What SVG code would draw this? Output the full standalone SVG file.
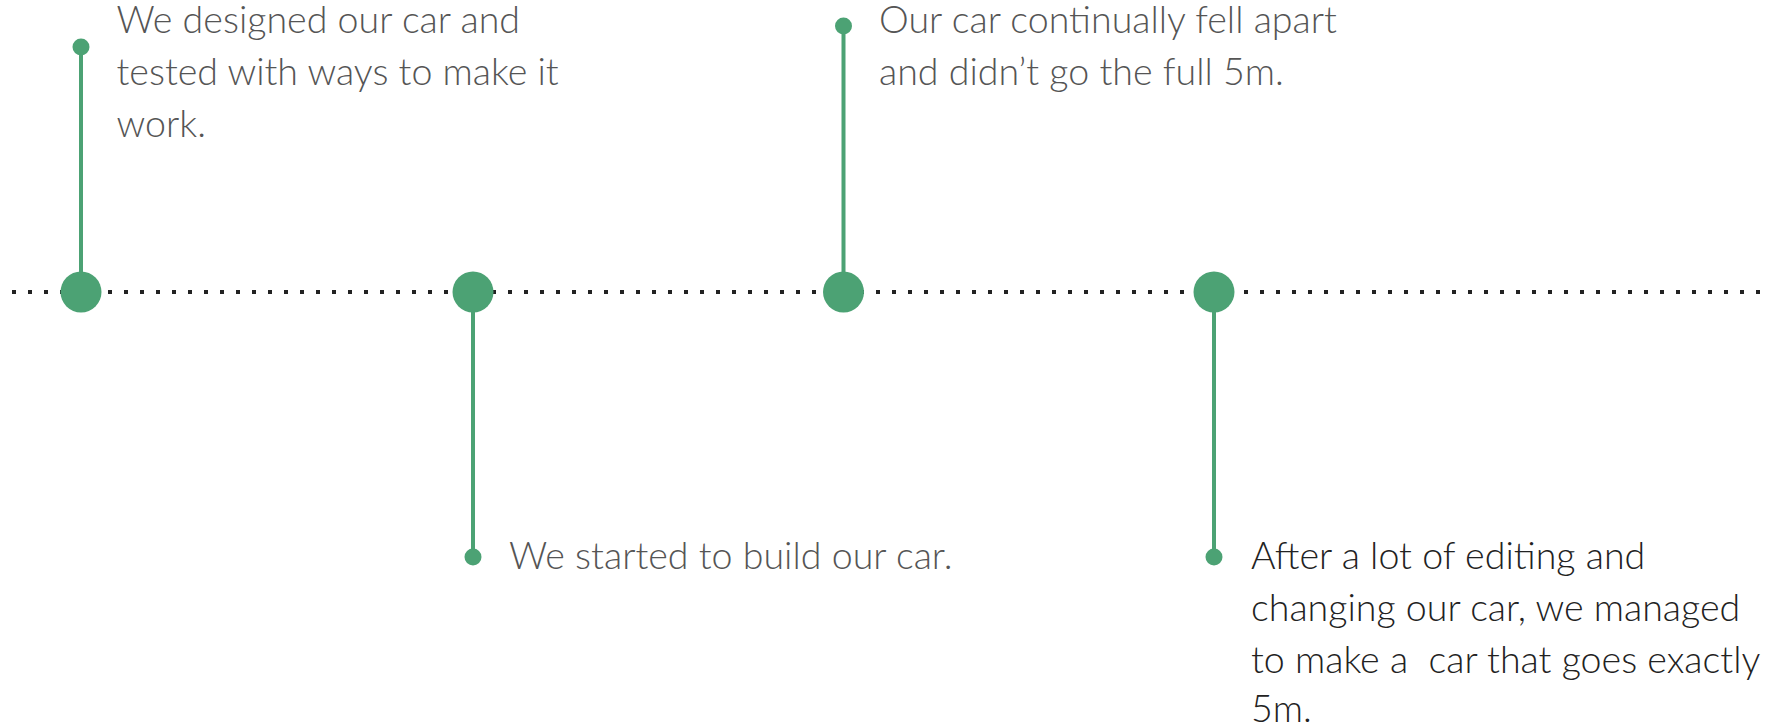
<svg xmlns="http://www.w3.org/2000/svg" width="1787" height="728" viewBox="0 0 1787 728">
<style>
.stem{stroke:#4ca274;stroke-width:4;fill:none}
.big{fill:#4ca274}
.tip{fill:#4ca274}
.axis{stroke:#222;stroke-width:4;stroke-dasharray:4 12;fill:none}
.t{font-family:Lato,"Open Sans",sans-serif;font-size:37.6px;font-weight:300;fill:#555;white-space:pre}
.t.dark{fill:#222}
</style>
<rect width="1787" height="728" fill="#fff"/>
<g id="connectors">
<line class="axis" x1="12" y1="292" x2="1764" y2="292"/>
<line class="stem" x1="81" y1="47" x2="81" y2="292"/>
<line class="stem" x1="473" y1="292" x2="473" y2="557"/>
<line class="stem" x1="843.5" y1="26" x2="843.5" y2="292"/>
<line class="stem" x1="1214" y1="292" x2="1214" y2="557"/>
</g>
<g id="node1">
<circle class="big" cx="81" cy="292" r="20.5"/>
<circle class="tip" cx="81" cy="47" r="8.5"/>
<text class="t" x="116.5" y="33"><tspan x="116.5" y="33">We designed our car and</tspan><tspan x="116.5" y="85">tested with ways to make it</tspan><tspan x="116.5" y="137">work.</tspan></text>
</g>
<g id="node2">
<circle class="big" cx="473" cy="292" r="20.5"/>
<circle class="tip" cx="473" cy="557" r="8.5"/>
<text class="t" x="509" y="569">We started to build our car.</text>
</g>
<g id="node3">
<circle class="big" cx="843.5" cy="292" r="20.5"/>
<circle class="tip" cx="843.5" cy="26" r="8.5"/>
<text class="t" x="879" y="33"><tspan x="879" y="33">Our car continually fell apart</tspan><tspan x="879" y="85">and didn’t go the full 5m.</tspan></text>
</g>
<g id="node4">
<circle class="big" cx="1214" cy="292" r="20.5"/>
<circle class="tip" cx="1214" cy="557" r="8.5"/>
<text class="t dark" x="1251" y="569"><tspan x="1251" y="569">After a lot of editing and</tspan><tspan x="1251" y="621">changing our car, we managed</tspan><tspan x="1251" y="673">to make a  car that goes exactly</tspan><tspan x="1251" y="722">5m.</tspan></text>
</g>
</svg>
